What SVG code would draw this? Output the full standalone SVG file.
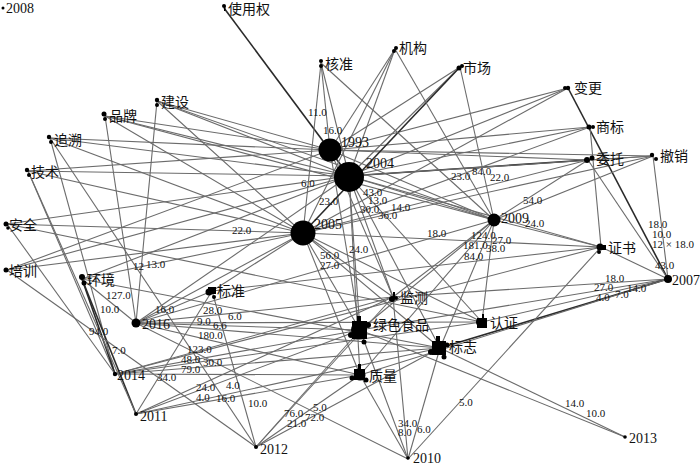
<svg xmlns="http://www.w3.org/2000/svg" width="700" height="467" viewBox="0 0 700 467">
<style>
.e{stroke:#6b6b6b;stroke-width:1.1;fill:none}
.d{stroke:#2a2a2a;stroke-width:1.6;fill:none}
.n{font-family:"Liberation Serif","Noto Sans CJK SC",serif;font-size:14px;fill:#111}
.w{font-family:"Liberation Serif",serif;font-size:11px;fill:#111}
.k{fill:#000}
</style>
<rect width="700" height="467" fill="#fff"/>
<g id="connectors">
<line class="e" x1="321" y1="63" x2="330" y2="150"/>
<line class="e" x1="395" y1="49" x2="330" y2="150"/>
<line class="e" x1="460" y1="67" x2="330" y2="150"/>
<line class="e" x1="568" y1="88" x2="330" y2="150"/>
<line class="e" x1="590" y1="127" x2="330" y2="150"/>
<line class="e" x1="588" y1="160" x2="330" y2="150"/>
<line class="e" x1="653" y1="156" x2="330" y2="150"/>
<line class="e" x1="105" y1="116" x2="330" y2="150"/>
<line class="e" x1="157" y1="101" x2="330" y2="150"/>
<line class="e" x1="50" y1="138" x2="330" y2="150"/>
<line class="e" x1="28" y1="171" x2="330" y2="150"/>
<line class="e" x1="7" y1="270" x2="330" y2="150"/>
<line class="e" x1="330" y1="150" x2="494" y2="220"/>
<line class="e" x1="330" y1="150" x2="393" y2="297"/>
<line class="e" x1="330" y1="150" x2="360" y2="330"/>
<line class="d" x1="224" y1="8" x2="349" y2="176"/>
<line class="e" x1="321" y1="63" x2="349" y2="176"/>
<line class="e" x1="395" y1="49" x2="349" y2="176"/>
<line class="e" x1="460" y1="67" x2="349" y2="176"/>
<line class="e" x1="568" y1="88" x2="349" y2="176"/>
<line class="e" x1="590" y1="127" x2="349" y2="176"/>
<line class="d" x1="588" y1="160" x2="349" y2="176"/>
<line class="e" x1="653" y1="156" x2="349" y2="176"/>
<line class="e" x1="105" y1="116" x2="349" y2="176"/>
<line class="e" x1="157" y1="101" x2="349" y2="176"/>
<line class="e" x1="50" y1="138" x2="349" y2="176"/>
<line class="e" x1="28" y1="171" x2="349" y2="176"/>
<line class="e" x1="7" y1="224" x2="349" y2="176"/>
<line class="e" x1="7" y1="270" x2="349" y2="176"/>
<line class="e" x1="349" y1="176" x2="601" y2="247"/>
<line class="e" x1="349" y1="176" x2="360" y2="330"/>
<line class="e" x1="349" y1="176" x2="440" y2="348"/>
<line class="e" x1="349" y1="176" x2="360" y2="375"/>
<line class="e" x1="349" y1="176" x2="482" y2="322"/>
<line class="e" x1="349" y1="176" x2="393" y2="297"/>
<line class="e" x1="349" y1="176" x2="494" y2="220"/>
<line class="e" x1="349" y1="176" x2="136" y2="323"/>
<line class="e" x1="349" y1="176" x2="82" y2="279"/>
<line class="e" x1="321" y1="63" x2="303" y2="233"/>
<line class="e" x1="395" y1="49" x2="303" y2="233"/>
<line class="d" x1="460" y1="67" x2="303" y2="233"/>
<line class="e" x1="568" y1="88" x2="303" y2="233"/>
<line class="e" x1="590" y1="127" x2="303" y2="233"/>
<line class="e" x1="588" y1="160" x2="303" y2="233"/>
<line class="e" x1="653" y1="156" x2="303" y2="233"/>
<line class="e" x1="105" y1="116" x2="303" y2="233"/>
<line class="e" x1="157" y1="101" x2="303" y2="233"/>
<line class="e" x1="50" y1="138" x2="303" y2="233"/>
<line class="e" x1="28" y1="171" x2="303" y2="233"/>
<line class="e" x1="7" y1="224" x2="303" y2="233"/>
<line class="e" x1="7" y1="270" x2="303" y2="233"/>
<line class="e" x1="82" y1="279" x2="303" y2="233"/>
<line class="e" x1="303" y1="233" x2="601" y2="247"/>
<line class="e" x1="303" y1="233" x2="393" y2="297"/>
<line class="e" x1="303" y1="233" x2="360" y2="330"/>
<line class="e" x1="303" y1="233" x2="440" y2="348"/>
<line class="e" x1="303" y1="233" x2="360" y2="375"/>
<line class="e" x1="303" y1="233" x2="482" y2="322"/>
<line class="e" x1="303" y1="233" x2="212" y2="291"/>
<line class="e" x1="303" y1="233" x2="136" y2="323"/>
<line class="e" x1="321" y1="63" x2="494" y2="220"/>
<line class="e" x1="395" y1="49" x2="494" y2="220"/>
<line class="e" x1="460" y1="67" x2="494" y2="220"/>
<line class="e" x1="588" y1="160" x2="494" y2="220"/>
<line class="e" x1="494" y1="220" x2="601" y2="247"/>
<line class="e" x1="494" y1="220" x2="360" y2="330"/>
<line class="e" x1="494" y1="220" x2="440" y2="348"/>
<line class="e" x1="494" y1="220" x2="482" y2="322"/>
<line class="e" x1="494" y1="220" x2="393" y2="297"/>
<line class="e" x1="494" y1="220" x2="360" y2="375"/>
<line class="e" x1="157" y1="101" x2="494" y2="220"/>
<line class="e" x1="105" y1="116" x2="494" y2="220"/>
<line class="e" x1="136" y1="323" x2="494" y2="220"/>
<line class="d" x1="568" y1="88" x2="668" y2="279"/>
<line class="e" x1="588" y1="160" x2="668" y2="279"/>
<line class="e" x1="653" y1="156" x2="668" y2="279"/>
<line class="e" x1="601" y1="247" x2="668" y2="279"/>
<line class="e" x1="668" y1="279" x2="393" y2="297"/>
<line class="e" x1="668" y1="279" x2="360" y2="330"/>
<line class="e" x1="668" y1="279" x2="482" y2="322"/>
<line class="d" x1="668" y1="279" x2="440" y2="348"/>
<line class="e" x1="668" y1="279" x2="360" y2="375"/>
<line class="e" x1="588" y1="160" x2="653" y2="156"/>
<line class="e" x1="590" y1="127" x2="601" y2="247"/>
<line class="e" x1="653" y1="156" x2="494" y2="220"/>
<line class="e" x1="105" y1="116" x2="136" y2="323"/>
<line class="e" x1="157" y1="101" x2="136" y2="323"/>
<line class="e" x1="136" y1="323" x2="212" y2="291"/>
<line class="e" x1="136" y1="323" x2="393" y2="297"/>
<line class="e" x1="136" y1="323" x2="360" y2="330"/>
<line class="e" x1="136" y1="323" x2="482" y2="322"/>
<line class="e" x1="136" y1="323" x2="440" y2="348"/>
<line class="e" x1="136" y1="323" x2="360" y2="375"/>
<line class="e" x1="82" y1="279" x2="136" y2="323"/>
<line class="e" x1="50" y1="138" x2="115" y2="374"/>
<line class="e" x1="28" y1="171" x2="115" y2="374"/>
<line class="d" x1="82" y1="279" x2="115" y2="374"/>
<line class="e" x1="7" y1="224" x2="115" y2="374"/>
<line class="e" x1="115" y1="374" x2="360" y2="330"/>
<line class="e" x1="115" y1="374" x2="440" y2="348"/>
<line class="e" x1="115" y1="374" x2="360" y2="375"/>
<line class="e" x1="115" y1="374" x2="482" y2="322"/>
<line class="e" x1="115" y1="374" x2="393" y2="297"/>
<line class="e" x1="115" y1="374" x2="601" y2="247"/>
<line class="d" x1="82" y1="279" x2="136" y2="414"/>
<line class="e" x1="28" y1="171" x2="136" y2="414"/>
<line class="e" x1="136" y1="414" x2="212" y2="291"/>
<line class="e" x1="136" y1="414" x2="360" y2="330"/>
<line class="e" x1="136" y1="414" x2="360" y2="375"/>
<line class="e" x1="136" y1="414" x2="440" y2="348"/>
<line class="e" x1="136" y1="414" x2="393" y2="297"/>
<line class="e" x1="7" y1="270" x2="256" y2="447"/>
<line class="e" x1="212" y1="291" x2="256" y2="447"/>
<line class="e" x1="256" y1="447" x2="360" y2="330"/>
<line class="e" x1="256" y1="447" x2="360" y2="375"/>
<line class="e" x1="256" y1="447" x2="440" y2="348"/>
<line class="e" x1="256" y1="447" x2="393" y2="297"/>
<line class="e" x1="50" y1="138" x2="256" y2="447"/>
<line class="e" x1="408" y1="459" x2="360" y2="330"/>
<line class="e" x1="408" y1="459" x2="440" y2="348"/>
<line class="e" x1="408" y1="459" x2="360" y2="375"/>
<line class="e" x1="408" y1="459" x2="601" y2="247"/>
<line class="e" x1="408" y1="459" x2="393" y2="297"/>
<line class="e" x1="408" y1="459" x2="136" y2="323"/>
<line class="e" x1="625" y1="437" x2="360" y2="330"/>
<line class="e" x1="625" y1="437" x2="440" y2="348"/>
<line class="e" x1="82" y1="279" x2="440" y2="348"/>
<line class="e" x1="7" y1="224" x2="482" y2="322"/>
<line class="e" x1="212" y1="291" x2="601" y2="247"/>
</g>
<g id="edge-labels">
<text class="w" x="308" y="116">11.0</text>
<text class="w" x="323" y="134">16.0</text>
<text class="w" x="301" y="187">6.0</text>
<text class="w" x="319" y="205">23.0</text>
<text class="w" x="232" y="234">22.0</text>
<text class="w" x="133" y="270">12</text>
<text class="w" x="146" y="268">13.0</text>
<text class="w" x="106" y="299">127.0</text>
<text class="w" x="100" y="313">10.0</text>
<text class="w" x="89" y="335">94.0</text>
<text class="w" x="112" y="354">7.0</text>
<text class="w" x="155" y="313">16.0</text>
<text class="w" x="203" y="314">28.0</text>
<text class="w" x="228" y="320">6.0</text>
<text class="w" x="197" y="325">9.0</text>
<text class="w" x="213" y="329">6.6</text>
<text class="w" x="198" y="339">180.0</text>
<text class="w" x="187" y="353">123.0</text>
<text class="w" x="181" y="363">48.0</text>
<text class="w" x="203" y="366">30.0</text>
<text class="w" x="181" y="373">79.0</text>
<text class="w" x="157" y="381">34.0</text>
<text class="w" x="196" y="391">24.0</text>
<text class="w" x="226" y="389">4.0</text>
<text class="w" x="196" y="401">4.0</text>
<text class="w" x="216" y="402">16.0</text>
<text class="w" x="248" y="407">10.0</text>
<text class="w" x="284" y="417">76.0</text>
<text class="w" x="287" y="427">21.0</text>
<text class="w" x="313" y="411">5.0</text>
<text class="w" x="305" y="421">72.0</text>
<text class="w" x="320" y="259">56.0</text>
<text class="w" x="320" y="269">27.0</text>
<text class="w" x="349" y="253">24.0</text>
<text class="w" x="363" y="196">43.0</text>
<text class="w" x="368" y="204">13.0</text>
<text class="w" x="391" y="211">14.0</text>
<text class="w" x="360" y="213">30.0</text>
<text class="w" x="378" y="219">36.0</text>
<text class="w" x="427" y="237">18.0</text>
<text class="w" x="451" y="180">23.0</text>
<text class="w" x="472" y="175">84.0</text>
<text class="w" x="490" y="181">22.0</text>
<text class="w" x="523" y="204">54.0</text>
<text class="w" x="525" y="227">24.0</text>
<text class="w" x="471" y="239">124.0</text>
<text class="w" x="492" y="244">27.0</text>
<text class="w" x="463" y="249">181.0</text>
<text class="w" x="486" y="252">38.0</text>
<text class="w" x="464" y="260">84.0</text>
<text class="w" x="648" y="228">18.0</text>
<text class="w" x="652" y="238">10.0</text>
<text class="w" x="652" y="248">12 × 18.0</text>
<text class="w" x="655" y="269">43.0</text>
<text class="w" x="605" y="282">18.0</text>
<text class="w" x="594" y="291">27.0</text>
<text class="w" x="627" y="292">14.0</text>
<text class="w" x="615" y="298">7.0</text>
<text class="w" x="596" y="301">4.0</text>
<text class="w" x="459" y="406">5.0</text>
<text class="w" x="398" y="427">34.0</text>
<text class="w" x="398" y="436">8.0</text>
<text class="w" x="417" y="433">6.0</text>
<text class="w" x="565" y="407">14.0</text>
<text class="w" x="586" y="417">10.0</text>
</g>
<g id="n2008"><circle class="k" cx="3" cy="8" r="1.5"/><text class="n" x="6" y="13">2008</text></g>
<g id="n使用权"><circle class="k" cx="224" cy="6" r="2"/><rect class="k" x="224" y="6" width="1.5" height="5"/><text class="n" x="228" y="14">使用权</text></g>
<g id="n核准"><circle class="k" cx="321" cy="61" r="2"/><circle class="k" cx="321" cy="66" r="2"/><text class="n" x="325" y="69">核准</text></g>
<g id="n机构"><circle class="k" cx="396" cy="48" r="2"/><circle class="k" cx="394" cy="51" r="2"/><text class="n" x="399" y="53">机构</text></g>
<g id="n市场"><circle class="k" cx="459" cy="68" r="2.5"/><circle class="k" cx="462" cy="66" r="2"/><text class="n" x="463" y="73">市场</text></g>
<g id="n变更"><circle class="k" cx="568" cy="88" r="2.2"/><circle class="k" cx="565" cy="88" r="2"/><text class="n" x="574" y="93">变更</text></g>
<g id="n商标"><circle class="k" cx="589" cy="127" r="2.5"/><circle class="k" cx="593" cy="127" r="2"/><text class="n" x="596" y="132">商标</text></g>
<g id="n委托"><circle class="k" cx="587" cy="160" r="3"/><circle class="k" cx="592" cy="158" r="2.5"/><text class="n" x="596" y="164">委托</text></g>
<g id="n撤销"><circle class="k" cx="652" cy="155" r="2.2"/><circle class="k" cx="656" cy="159" r="2"/><text class="n" x="660" y="161">撤销</text></g>
<g id="n建设"><circle class="k" cx="157" cy="100" r="2.2"/><circle class="k" cx="157" cy="105" r="2"/><text class="n" x="161" y="107">建设</text></g>
<g id="n品牌"><circle class="k" cx="104" cy="114" r="2.5"/><circle class="k" cx="105" cy="119" r="2"/><text class="n" x="109" y="121">品牌</text></g>
<g id="n追溯"><circle class="k" cx="49" cy="137" r="2.2"/><circle class="k" cx="51" cy="142" r="2"/><text class="n" x="54" y="145">追溯</text></g>
<g id="n技术"><circle class="k" cx="27" cy="170" r="2.2"/><circle class="k" cx="29" cy="175" r="2"/><text class="n" x="31" y="177">技术</text></g>
<g id="n安全"><circle class="k" cx="6" cy="224" r="2.5"/><circle class="k" cx="8" cy="228" r="1.8"/><text class="n" x="9" y="230">安全</text></g>
<g id="n培训"><circle class="k" cx="6" cy="270" r="2.5"/><text class="n" x="9" y="276">培训</text></g>
<g id="n环境"><circle class="k" cx="82" cy="277" r="3"/><circle class="k" cx="84" cy="283" r="2.5"/><text class="n" x="87" y="285">环境</text></g>
<g id="n1993"><circle class="k" cx="330" cy="150" r="11.5"/><text class="n" x="341" y="147">1993</text></g>
<g id="n2004"><circle class="k" cx="349" cy="177" r="15"/><text class="n" x="366" y="168">2004</text></g>
<g id="n2005"><circle class="k" cx="303" cy="233" r="12.5"/><text class="n" x="314" y="229">2005</text></g>
<g id="n2009"><circle class="k" cx="494" cy="220" r="6.5"/><text class="n" x="501" y="223">2009</text></g>
<g id="n证书"><circle class="k" cx="600" cy="247" r="3.5"/><rect class="k" x="598" y="245" width="8" height="5"/><circle class="k" cx="599" cy="252" r="2"/><text class="n" x="608" y="253">证书</text></g>
<g id="n2007"><circle class="k" cx="668" cy="279" r="4"/><text class="n" x="672" y="285">2007</text></g>
<g id="n标准"><circle class="k" cx="209" cy="292" r="3.5"/><rect class="k" x="208" y="287" width="8" height="7"/><circle class="k" cx="214" cy="297" r="2"/><text class="n" x="217" y="296">标准</text></g>
<g id="n2016"><circle class="k" cx="136" cy="323" r="4.5"/><text class="n" x="142" y="329">2016</text></g>
<g id="n监测"><circle class="k" cx="392" cy="299" r="3"/><rect class="k" x="393" y="292" width="2" height="6"/><circle class="k" cx="396" cy="298" r="2"/><text class="n" x="400" y="303">监测</text></g>
<g id="n认证"><rect class="k" x="477" y="318" width="10" height="10"/><circle class="k" cx="480" cy="322" r="4"/><rect class="k" x="482" y="314" width="2" height="5"/><text class="n" x="490" y="328">认证</text></g>
<g id="n绿色食品"><rect class="k" x="352" y="321" width="15" height="18"/><circle class="k" cx="359" cy="330" r="8"/><circle class="k" cx="351" cy="335" r="3"/><circle class="k" cx="368" cy="325" r="3"/><circle class="k" cx="364" cy="342" r="2.5"/><rect class="k" x="357" y="316" width="4" height="6"/><text class="n" x="373" y="330">绿色食品</text></g>
<g id="n标志"><rect class="k" x="432" y="341" width="14" height="14"/><circle class="k" cx="439" cy="348" r="7"/><circle class="k" cx="431" cy="352" r="3"/><circle class="k" cx="447" cy="345" r="2.5"/><circle class="k" cx="444" cy="357" r="2.5"/><rect class="k" x="436" y="336" width="4" height="6"/><text class="n" x="449" y="352">标志</text></g>
<g id="n质量"><rect class="k" x="354" y="369" width="11" height="11"/><circle class="k" cx="360" cy="375" r="5.5"/><circle class="k" cx="352" cy="378" r="2.5"/><circle class="k" cx="366" cy="380" r="2.5"/><rect class="k" x="358" y="364" width="3" height="6"/><text class="n" x="369" y="381">质量</text></g>
<g id="n2014"><circle class="k" cx="115" cy="374" r="2.2"/><text class="n" x="117" y="380">2014</text></g>
<g id="n2011"><circle class="k" cx="136" cy="414" r="2"/><text class="n" x="140" y="421">2011</text></g>
<g id="n2012"><circle class="k" cx="256" cy="447" r="2"/><text class="n" x="260" y="454">2012</text></g>
<g id="n2010"><circle class="k" cx="408" cy="458" r="1.8"/><text class="n" x="413" y="463">2010</text></g>
<g id="n2013"><circle class="k" cx="625" cy="437" r="1.8"/><text class="n" x="629" y="443">2013</text></g>
</svg>
